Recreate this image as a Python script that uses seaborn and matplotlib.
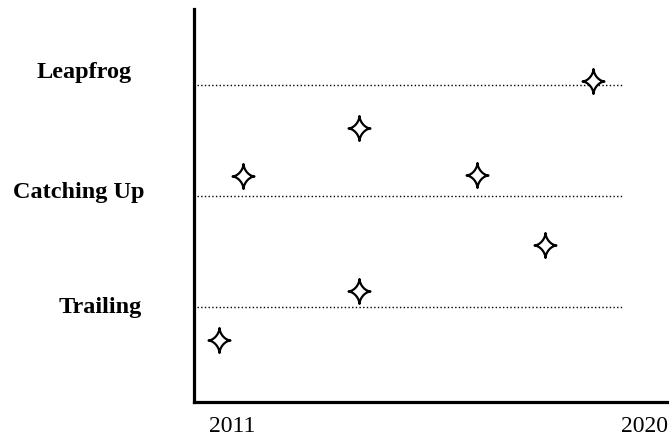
import numpy as np
import pandas as pd
import matplotlib
matplotlib.use("Agg")
import matplotlib.pyplot as plt
from matplotlib.path import Path
import seaborn as sns

# Data
categories = ["Trailing", "Catching Up", "Leapfrog"]
category_levels = [1, 2, 3]
years = [2010.72, 2011.24, 2013.77, 2013.77, 2016.35, 2017.83, 2018.88]
positions = [0.71, 2.18, 2.61, 1.15, 2.19, 1.56, 3.03]
tick_years = [2011, 2020]

df = pd.DataFrame({"year": years, "position": positions})

# Four-pointed star marker with concave sides
t = np.linspace(0, 2 * np.pi, 121)
sx = np.sign(np.cos(t)) * np.abs(np.cos(t)) ** 3.2 * 0.88
sy = np.sign(np.sin(t)) * np.abs(np.sin(t)) ** 3.2
star = Path(np.column_stack([sx, sy]), closed=True)

sns.set_style("white")
plt.rcParams["font.family"] = ["Liberation Serif", "DejaVu Serif"]
plt.rcParams["text.color"] = "black"
plt.rcParams["xtick.color"] = "black"

fig = plt.figure(figsize=(6.69, 4.39), dpi=100)
ax = fig.add_axes([0.29, 0.082, 0.71, 0.895])

# Dotted guide lines
ax.hlines(category_levels, 2010.24, 2019.52, colors="black", linestyles=":", linewidth=1)

sns.scatterplot(data=df, x="year", y="position", marker=star, s=320,
                color="white", edgecolor="black", linewidth=1.6, ax=ax, zorder=3)

# Category labels on the left
label_x = {"Leapfrog": 2007.77, "Catching Up": 2007.66, "Trailing": 2008.12}
label_dy = {"Leapfrog": 0.07, "Catching Up": -0.01, "Trailing": -0.04}
for name, lvl in zip(categories, category_levels):
    ax.text(label_x[name], lvl + label_dy[name], name, ha="center", va="baseline",
            fontsize=17.5, fontweight="bold", color="black", clip_on=False)

ax.set_xlim(2010.17, 2020.54)
ax.set_ylim(0.15, 3.68)
ax.set_xticks(tick_years)
ax.set_xticklabels([str(y) for y in tick_years], fontsize=17)
ax.set_yticks([])
ax.tick_params(axis="x", length=0, pad=9)
ax.set_xlabel("")
ax.set_ylabel("")

for side in ["top", "right"]:
    ax.spines[side].set_visible(False)
for side in ["left", "bottom"]:
    ax.spines[side].set_linewidth(2.3)
    ax.spines[side].set_color("black")

fig.savefig("out.png", dpi=100)
